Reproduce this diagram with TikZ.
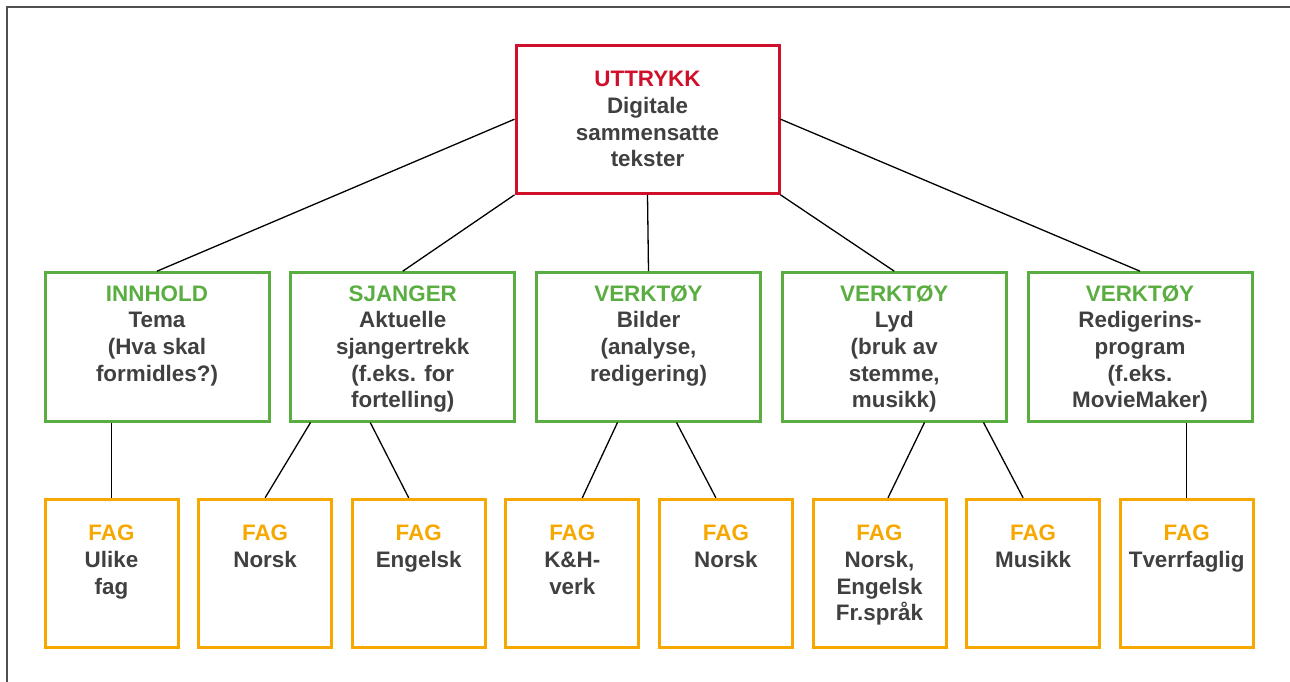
\documentclass[tikz,border=0pt]{standalone}
\usepackage{fontspec}
\setmainfont{Liberation Sans}
\usetikzlibrary{calc}
\definecolor{tred}{HTML}{D0102B}
\definecolor{tgreen}{HTML}{5AAD41}
\definecolor{torange}{HTML}{F6A800}
\definecolor{tgray}{HTML}{404040}
\definecolor{fgray}{HTML}{505050}
% #1 height, #2 width, #3 top gap, #4 header colour, #5 header, #6 body
\newcommand\boxtext[6]{\parbox[c][#1][t]{#2}{\centering\fontsize{22.4}{26.7}\selectfont\bfseries\vspace*{#3}\rule{0pt}{20pt}{\color{#4}#5}\\{\color{tgray}#6}}}
\tikzset{
  topbox/.style={draw=tred, line width=3pt, inner sep=0pt},
  midbox/.style={draw=tgreen, line width=3pt, inner sep=0pt},
  fagbox/.style={draw=torange, line width=3pt, inner sep=0pt},
  link/.style={draw=black, line width=1.3pt},
}
\newcommand\midtext[2]{\boxtext{148.3pt}{224pt}{8.3pt}{tgreen}{#1}{#2}}
\newcommand\fagtext[1]{\boxtext{148pt}{133pt}{21.4pt}{torange}{FAG}{#1}}
\begin{document}
\begin{tikzpicture}[x=1pt,y=-1pt]
\useasboundingbox (0,0) rectangle (1290,682);
\draw[fgray, line width=2pt] (6.7,690) -- (6.7,6.7) -- (1295,6.7);

\node[topbox] (top) at (647.5,119.2) {\boxtext{148.3pt}{263pt}{21.7pt}{tred}{UTTRYKK}{Digitale\\sammensatte\\tekster}};

\node[midbox] (m1) at (157,346.85) {\midtext{INNHOLD}{Tema\\(Hva skal\\formidles?)}};
\node[midbox] (m2) at (402.75,346.85) {\midtext{SJANGER}{Aktuelle\\sjangertrekk\\(f.eks. for\\fortelling)}};
\node[midbox] (m3) at (648.5,346.85) {\midtext{VERKTØY}{Bilder\\(analyse,\\redigering)}};
\node[midbox] (m4) at (894.25,346.85) {\midtext{VERKTØY}{Lyd\\(bruk av\\stemme,\\musikk)}};
\node[midbox] (m5) at (1140,346.85) {\midtext{VERKTØY}{Redigerins-\\program\\(f.eks.\\MovieMaker)}};

\node[fagbox] (b1) at (111.5,573.3) {\fagtext{Ulike\\fag}};
\node[fagbox] (b2) at (265.1,573.3) {\fagtext{Norsk}};
\node[fagbox] (b3) at (418.7,573.3) {\fagtext{Engelsk}};
\node[fagbox] (b4) at (572.3,573.3) {\fagtext{K\&H-\\verk}};
\node[fagbox] (b5) at (725.9,573.3) {\fagtext{Norsk}};
\node[fagbox] (b6) at (879.5,573.3) {\fagtext{Norsk,\\Engelsk\\Fr.språk}};
\node[fagbox] (b7) at (1033.1,573.3) {\fagtext{Musikk}};
\node[fagbox] (b8) at (1186.7,573.3) {\fagtext{Tverrfaglig}};

\draw[link] (top.west) -- (m1.north);
\draw[link] (top.south west) -- (m2.north);
\draw[link] (top.south) -- (m3.north);
\draw[link] (top.south east) -- (m4.north);
\draw[link] (top.east) -- (m5.north);

\draw[link] (b1.north |- m1.south) -- (b1.north);
\draw[link] ([xshift=21.3pt]m2.south west) -- (b2.north);
\draw[link] ([xshift=81pt]m2.south west) -- ([xshift=-10pt]b3.north);
\draw[link] ([xshift=82.5pt]m3.south west) -- ([xshift=10pt]b4.north);
\draw[link] ([xshift=141.5pt]m3.south west) -- ([xshift=-10pt]b5.north);
\draw[link] ([xshift=143.75pt]m4.south west) -- ([xshift=8.5pt]b6.north);
\draw[link] ([xshift=202.75pt]m4.south west) -- ([xshift=-10pt]b7.north);
\draw[link] (b8.north |- m5.south) -- (b8.north);
\end{tikzpicture}
\end{document}
